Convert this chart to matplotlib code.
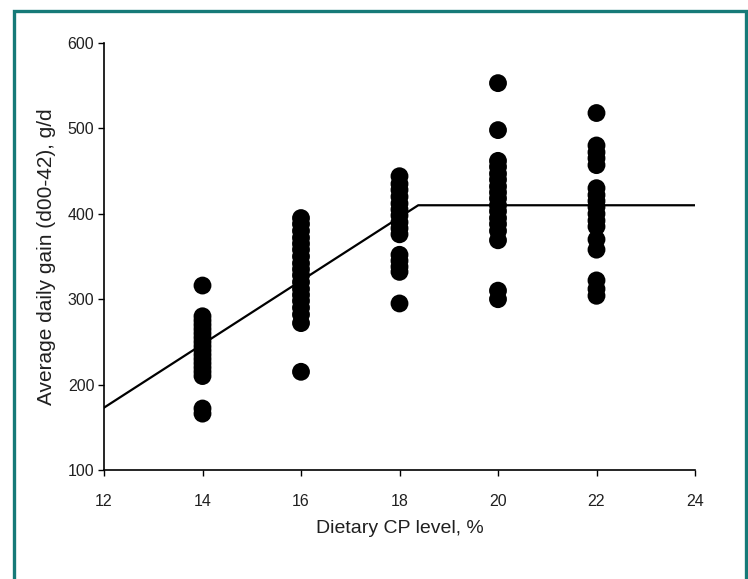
import matplotlib
matplotlib.use("Agg")
import matplotlib.pyplot as plt
from matplotlib.patches import Rectangle
import numpy as np

plt.rcParams['font.family'] = ['Liberation Sans', 'DejaVu Sans']

# Data
cp14 = [316, 280, 275, 270, 265, 260, 255, 250, 245, 240, 235, 230, 225, 220, 215, 210, 172, 166]
cp16 = [395, 388, 380, 372, 365, 358, 350, 342, 335, 328, 320, 312, 305, 298, 290, 282, 272, 215]
cp18 = [444, 435, 428, 420, 412, 405, 398, 390, 383, 376, 352, 345, 338, 332, 295]
cp20 = [553, 498, 462, 455, 447, 440, 432, 425, 418, 410, 403, 395, 388, 380, 369, 310, 300]
cp22 = [518, 480, 472, 465, 457, 430, 422, 415, 408, 400, 392, 385, 370, 358, 322, 312, 304]
groups = {14: cp14, 16: cp16, 18: cp18, 20: cp20, 22: cp22}

# Broken-line fit
line_x = [12, 18.38, 24]
line_y = [173, 410, 410]

x_ticks = [12, 14, 16, 18, 20, 22, 24]
y_ticks = [100, 200, 300, 400, 500, 600]

TXT = '#202020'

fig = plt.figure(figsize=(7.48, 5.79), dpi=100)
fig.patch.set_facecolor('white')

# teal frame (bottom edge lies outside the image)
frame = Rectangle((13.5 / 748, -0.05), (745.5 - 13.5) / 748, 1.05 - 11 / 579,
                  transform=fig.transFigure, fill=False, edgecolor='#167a78',
                  linewidth=2.4, zorder=0)
fig.patches.append(frame)

ax = fig.add_axes([104 / 748, 1 - 470 / 579, (695 - 104) / 748, (470 - 43) / 579])

for cp, vals in groups.items():
    ax.scatter([cp] * len(vals), vals, s=165, color='black', edgecolors='none', zorder=3)

ax.plot(line_x, line_y, color='black', linewidth=1.6, zorder=2)

ax.set_xlim(12, 24)
ax.set_ylim(100, 600)
ax.set_xticks(x_ticks)
ax.set_yticks(y_ticks)
ax.tick_params(direction='out', length=4, width=1, labelsize=11.5, colors='black',
               labelcolor=TXT)
ax.tick_params(axis='x', pad=13)
ax.tick_params(axis='y', pad=3)
for s in ['top', 'right']:
    ax.spines[s].set_visible(False)
for s in ['left', 'bottom']:
    ax.spines[s].set_linewidth(1.2)

ax.set_xlabel('Dietary CP level, %', fontsize=14, labelpad=8, color=TXT)
ax.set_ylabel('Average daily gain (d00-42), g/d', fontsize=15, labelpad=8, color=TXT)

fig.savefig('out.png', dpi=100)
